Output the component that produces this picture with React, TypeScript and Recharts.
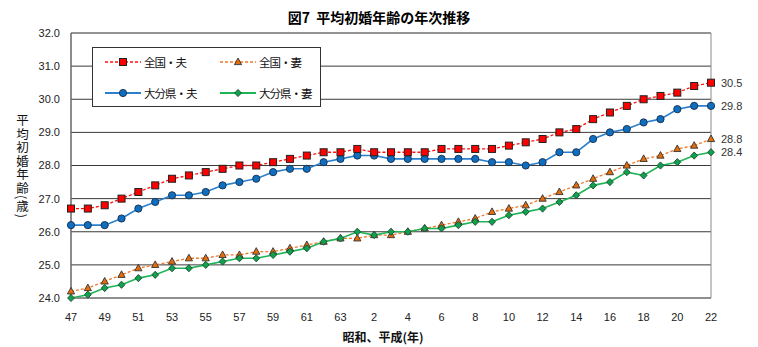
import React from 'react';
import { LineChart, Line, XAxis, YAxis, CartesianGrid, ReferenceArea, LabelList } from 'recharts';

const categories = ['47','48','49','50','51','52','53','54','55','56','57','58','59','60','61','62','63','元','2','3','4','5','6','7','8','9','10','11','12','13','14','15','16','17','18','19','20','21','22'];

const nationalHusband = [26.7,26.7,26.8,27.0,27.2,27.4,27.6,27.7,27.8,27.9,28.0,28.0,28.1,28.2,28.3,28.4,28.4,28.5,28.4,28.4,28.4,28.4,28.5,28.5,28.5,28.5,28.6,28.7,28.8,29.0,29.1,29.4,29.6,29.8,30.0,30.1,30.2,30.4,30.5];
const nationalWife = [24.2,24.3,24.5,24.7,24.9,25.0,25.1,25.2,25.2,25.3,25.3,25.4,25.4,25.5,25.6,25.7,25.8,25.8,25.9,25.9,26.0,26.1,26.2,26.3,26.4,26.6,26.7,26.8,27.0,27.2,27.4,27.6,27.8,28.0,28.2,28.3,28.5,28.6,28.8];
const oitaHusband = [26.2,26.2,26.2,26.4,26.7,26.9,27.1,27.1,27.2,27.4,27.5,27.6,27.8,27.9,27.9,28.1,28.2,28.3,28.3,28.2,28.2,28.2,28.2,28.2,28.2,28.1,28.1,28.0,28.1,28.4,28.4,28.8,29.0,29.1,29.3,29.4,29.7,29.8,29.8];
const oitaWife = [24.0,24.1,24.3,24.4,24.6,24.7,24.9,24.9,25.0,25.1,25.2,25.2,25.3,25.4,25.5,25.7,25.8,26.0,25.9,26.0,26.0,26.1,26.1,26.2,26.3,26.3,26.5,26.6,26.7,26.9,27.1,27.4,27.5,27.8,27.7,28.0,28.1,28.3,28.4];

const yTicks = [24, 25, 26, 27, 28, 29, 30, 31, 32];

const seriesNames = {
  nh: '全国・夫',
  nw: '全国・妻',
  oh: '大分県・夫',
  ow: '大分県・妻',
};

const data = categories.map((c, i) => ({
  label: c,
  nh: nationalHusband[i],
  nw: nationalWife[i],
  oh: oitaHusband[i],
  ow: oitaWife[i],
}));

const FONT = '"Noto Sans CJK JP", "Noto Sans", sans-serif';
const NUMFONT = '"Liberation Sans", Arial, sans-serif';
const LAST = categories.length - 1;

const C = {
  nhLine: '#FF1010', nhFill: '#FF0000',
  nwLine: '#F07A2A', nwFill: '#E46C0A',
  ohLine: '#2A80CC', ohFill: '#0E6FC0',
  owLine: '#1DB456', owFill: '#0FA050',
};

const Square = (p: any) => {
  if (p.cx == null || p.cy == null) return <g key={p.key} />;
  return <rect key={p.key} x={p.cx - 3.5} y={p.cy - 3.5} width={7} height={7} fill={C.nhFill} stroke="#222" strokeWidth={1} />;
};
const Circle = (p: any) => {
  if (p.cx == null || p.cy == null) return <g key={p.key} />;
  return <circle key={p.key} cx={p.cx} cy={p.cy} r={3.6} fill={C.ohFill} stroke="#1c3556" strokeWidth={1} />;
};
const Tri = (p: any) => {
  if (p.cx == null || p.cy == null) return <g key={p.key} />;
  const { cx, cy } = p;
  return <path key={p.key} d={`M${cx},${cy - 4} L${cx + 3.6},${cy + 2.6} L${cx - 3.6},${cy + 2.6} Z`} fill={C.nwFill} stroke="#333" strokeWidth={0.9} />;
};
const Diamond = (p: any) => {
  if (p.cx == null || p.cy == null) return <g key={p.key} />;
  const { cx, cy } = p;
  return <path key={p.key} d={`M${cx},${cy - 3.6} L${cx + 3.4},${cy} L${cx},${cy + 3.6} L${cx - 3.4},${cy} Z`} fill={C.owFill} stroke="#1d4a2c" strokeWidth={0.9} />;
};

const endLabel = (props: any) => {
  const { x, y, value, index } = props;
  if (index !== LAST) return null;
  return (
    <text x={Number(x) + 10} y={Number(y) + 4} fontSize={11} fill="#333" fontFamily={NUMFONT}>
      {Number(value).toFixed(1)}
    </text>
  );
};

const LegendIcon = ({ kind }: { kind: string }) => {
  const w = 36, h = 10, cx = 18, cy = 5;
  let line: any = null;
  let mark: any = null;
  if (kind === 'nh') {
    line = <line x1={0} y1={cy} x2={w} y2={cy} stroke={C.nhLine} strokeWidth={1.3} strokeDasharray="3 2" />;
    mark = <rect x={cx - 3.5} y={cy - 3.5} width={7} height={7} fill={C.nhFill} stroke="#222" strokeWidth={1} />;
  } else if (kind === 'nw') {
    line = <line x1={0} y1={cy} x2={w} y2={cy} stroke={C.nwLine} strokeWidth={1.3} strokeDasharray="3 2" />;
    mark = <path d={`M${cx},${cy - 4} L${cx + 3.6},${cy + 2.6} L${cx - 3.6},${cy + 2.6} Z`} fill={C.nwFill} stroke="#333" strokeWidth={0.9} />;
  } else if (kind === 'oh') {
    line = <line x1={0} y1={cy} x2={w} y2={cy} stroke={C.ohLine} strokeWidth={2} />;
    mark = <circle cx={cx} cy={cy} r={3.6} fill={C.ohFill} stroke="#1c3556" strokeWidth={1} />;
  } else {
    line = <line x1={0} y1={cy} x2={w} y2={cy} stroke={C.owLine} strokeWidth={2} />;
    mark = <path d={`M${cx},${cy - 3.6} L${cx + 3.4},${cy} L${cx},${cy + 3.6} L${cx - 3.4},${cy} Z`} fill={C.owFill} stroke="#1d4a2c" strokeWidth={0.9} />;
  }
  return (
    <svg width={w} height={h} style={{ display: 'block' }}>
      {line}
      {mark}
    </svg>
  );
};

const LegendItem = ({ kind, left, top }: { kind: string; left: number; top: number }) => (
  <div style={{ position: 'absolute', left, top, display: 'flex', alignItems: 'center', height: 14 }}>
    <LegendIcon kind={kind} />
    <span style={{ marginLeft: 3, fontSize: 11.5, color: '#111', fontFamily: FONT, lineHeight: '14px', whiteSpace: 'nowrap', letterSpacing: -1 }}>
      {(seriesNames as any)[kind]}
    </span>
  </div>
);

const LegendBox = () => (
  <div style={{ position: 'absolute', left: 92, top: 47, width: 229, height: 60, border: '1px solid #333', background: '#fff', boxSizing: 'border-box' }}>
    <LegendItem kind="nh" left={12} top={7} />
    <LegendItem kind="nw" left={127} top={7} />
    <LegendItem kind="oh" left={12} top={38} />
    <LegendItem kind="ow" left={127} top={38} />
  </div>
);

export default function App() {
  return (
    <div style={{ position: 'absolute', left: 0, top: 0, width: 758, height: 347, background: '#fff', fontFamily: FONT }}>
      <div style={{ position: 'absolute', left: 0, width: 758, top: 7, textAlign: 'center', fontSize: 14, fontWeight: 'bold', color: '#000', fontFamily: FONT, lineHeight: '20px' }}>
        図7&nbsp;&nbsp;平均初婚年齢の年次推移
      </div>
      <div style={{ position: 'absolute', left: 14, top: 114, width: 16, height: 106, writingMode: 'vertical-rl', fontSize: 12.5, color: '#111', fontFamily: FONT, lineHeight: '16px', letterSpacing: 1 }}>
        平均初婚年齢(歳)
      </div>
      <div style={{ position: 'absolute', left: 0, width: 766, top: 328, textAlign: 'center', fontSize: 12, fontWeight: 'bold', color: '#111', fontFamily: FONT, lineHeight: '18px' }}>
        昭和、平成(年)
      </div>
      <div style={{ position: 'absolute', left: 0, top: 0 }}>
        <LineChart width={758} height={347} data={data} margin={{ top: 33, right: 47, bottom: 19, left: 0 }}>
          <CartesianGrid vertical={false} horizontal={true} stroke="#3a3a3a" strokeWidth={1} />
          <ReferenceArea y1={24} y2={32} fill="none" stroke="#8a8a8a" strokeWidth={1} ifOverflow="visible" />
          <XAxis
            dataKey="label"
            interval={1}
            tickLine={false}
            axisLine={{ stroke: '#8a8a8a' }}
            height={30}
            tickMargin={9}
            tick={{ fontSize: 11, fill: '#222', fontFamily: NUMFONT }}
          />
          <YAxis
            domain={[24, 32]}
            ticks={yTicks}
            width={71}
            tickLine={false}
            axisLine={{ stroke: '#555' }}
            tickMargin={5}
            tickFormatter={(v: number) => v.toFixed(1)}
            tick={{ fontSize: 11, fill: '#222', fontFamily: NUMFONT }}
          />
          <Line dataKey="nw" name={seriesNames.nw} stroke={C.nwLine} strokeWidth={1.3} strokeDasharray="3 2" dot={Tri} activeDot={false} isAnimationActive={false}>
            <LabelList dataKey="nw" content={endLabel} />
          </Line>
          <Line dataKey="ow" name={seriesNames.ow} stroke={C.owLine} strokeWidth={1.6} dot={Diamond} activeDot={false} isAnimationActive={false}>
            <LabelList dataKey="ow" content={endLabel} />
          </Line>
          <Line dataKey="oh" name={seriesNames.oh} stroke={C.ohLine} strokeWidth={1.6} dot={Circle} activeDot={false} isAnimationActive={false}>
            <LabelList dataKey="oh" content={endLabel} />
          </Line>
          <Line dataKey="nh" name={seriesNames.nh} stroke={C.nhLine} strokeWidth={1.3} strokeDasharray="3 2" dot={Square} activeDot={false} isAnimationActive={false}>
            <LabelList dataKey="nh" content={endLabel} />
          </Line>
        </LineChart>
      </div>
      <LegendBox />
    </div>
  );
}
